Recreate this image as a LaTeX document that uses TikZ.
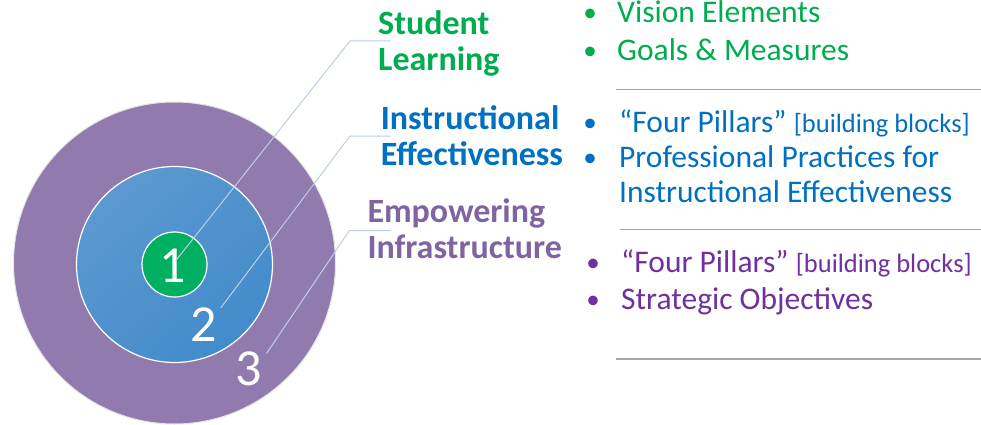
\documentclass[tikz,border=0pt]{standalone}
\usepackage{fontspec}
\setmainfont{Carlito}
\definecolor{outerpurple}{RGB}{145,123,174}
\definecolor{midlight}{RGB}{92,153,207}
\definecolor{middark}{RGB}{66,139,203}
\definecolor{innergreen}{RGB}{0,176,96}
\definecolor{hgreen}{RGB}{0,172,80}
\definecolor{hblue}{RGB}{0,112,192}
\definecolor{hpurple}{RGB}{128,100,162}
\definecolor{bpurple}{RGB}{112,48,160}
\definecolor{leader}{RGB}{190,206,228}
\definecolor{sepgray}{RGB}{165,165,165}
\tikzset{
  ring/.style={circle, inner sep=0pt},
  numtext/.style={text=white, font=\fontsize{52}{52}\selectfont, inner sep=0pt},
  head/.style={anchor=base west, align=left, inner sep=0pt, font=\bfseries\fontsize{34}{36}\selectfont},
  bultext/.style={anchor=base west, inner sep=0pt, font=\fontsize{31.5}{34}\selectfont},
  buldot/.style={anchor=base, inner sep=0pt, font=\fontsize{27}{30}\selectfont},
  leaderline/.style={draw=leader, line width=1pt},
  sepline/.style={draw=sepgray, line width=1.3pt}
}
\begin{document}
\begin{tikzpicture}[x=1pt,y=-1pt]
\useasboundingbox (0,0) rectangle (981,425);
\fill[white] (0,0) rectangle (981,425);

% circles
\node[ring, minimum size=322pt, fill=outerpurple, draw=white!80!gray, line width=1pt] (c3) at (174.5,263) {};
\node[ring, minimum size=196pt, top color=midlight, bottom color=middark, shading angle=40, draw=white, line width=1.2pt] (c2) at (174.5,264.5) {};
\node[ring, minimum size=65pt, fill=innergreen, draw=white, line width=1.2pt] (c1) at (174.5,264.5) {};

% numbers
\node[numtext] (n1) at (172.5,266) {1};
\node[numtext] (n2) at (204,325) {2};
\node[numtext] (n3) at (249,369) {3};

% leader lines
\coordinate (s1) at (175.7,260.7);
\coordinate (k1) at (350,41);
\coordinate (e1) at (390.5,41);
\coordinate (s2) at (220.7,308);
\coordinate (k2) at (350,136);
\coordinate (e2) at (390.5,136);
\coordinate (s3) at (266.7,353.3);
\coordinate (k3) at (349.3,230.7);
\coordinate (e3) at (390.5,230.7);
\draw[leaderline] (s1) -- (k1) -- (e1);
\draw[leaderline] (s2) -- (k2) -- (e2);
\draw[leaderline] (s3) -- (k3) -- (e3);

% headings (anchor on the baseline of the last line)
\node[head, text=hgreen] (h1) at (378,71) {Student\\Learning};
\node[head, text=hblue] (h2) at (380.7,165) {Instructional\\Effectiveness};
\node[head, text=hpurple] (h3) at (367.3,258) {Empowering\\Infrastructure};

% green bullets
\node[buldot, text=hgreen] (g1d) at (590,22) {•};
\node[bultext, text=hgreen] (g1) at (617,23) {Vision Elements};
\node[buldot, text=hgreen] (g2d) at (590,60) {•};
\node[bultext, text=hgreen] (g2) at (617,61) {Goals \& Measures};

% blue bullets
\node[buldot, text=hblue] (b1d) at (590,131.5) {•};
\node[bultext, text=hblue] (b1) at (619,132.5) {“Four Pillars” {\fontsize{26.5}{28}\selectfont[building blocks]}};
\node[buldot, text=hblue] (b2d) at (590,166.5) {•};
\node[bultext, text=hblue] (b2) at (619,167.5) {Professional Practices for};
\node[bultext, text=hblue] (b3) at (619,202) {Instructional Effectiveness};

% purple bullets
\node[buldot, text=bpurple] (p1d) at (593,271) {•};
\node[bultext, text=bpurple] (p1) at (621,272) {“Four Pillars” {\fontsize{26.5}{28}\selectfont[building blocks]}};
\node[buldot, text=bpurple] (p2d) at (593,308) {•};
\node[bultext, text=bpurple] (p2) at (621,309) {Strategic Objectives};

% separators
\draw[sepline] (616,89.3) -- (981,89.3);
\draw[sepline] (620,229.5) -- (981,229.5);
\draw[sepline] (616,359) -- (981,359);
\end{tikzpicture}
\end{document}
